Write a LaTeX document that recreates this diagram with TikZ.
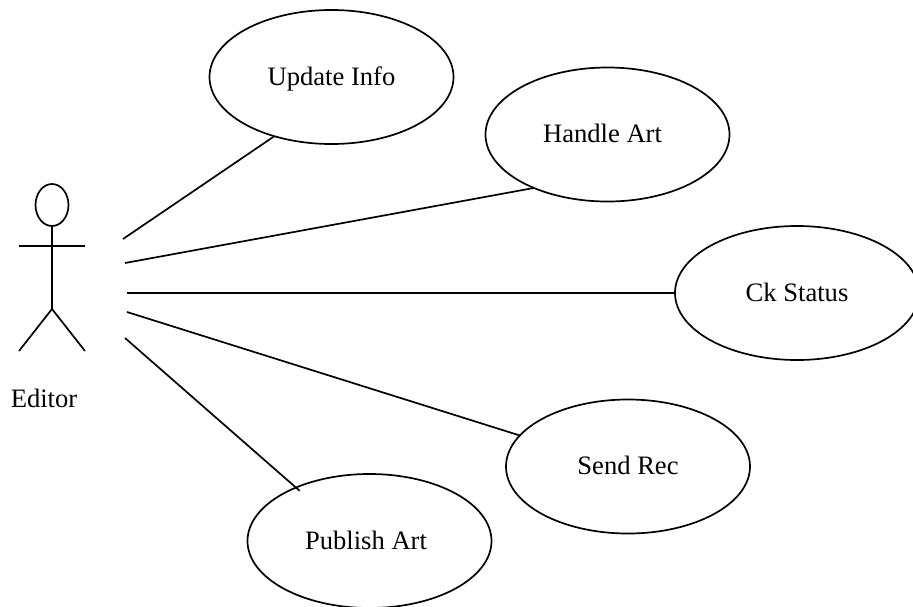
\documentclass[tikz,border=0pt]{standalone}
\usepackage{fontspec}
\setmainfont{Liberation Serif}
\usetikzlibrary{shapes.geometric}
\tikzset{usecase/.style={draw,ellipse,inner sep=0pt,outer sep=0pt,minimum width=244pt,minimum height=134pt,text height=18pt,text depth=2pt}}
\begin{document}
\begin{tikzpicture}[x=1pt,y=1pt,line width=1.7pt,font=\fontsize{26.6}{30}\selectfont]
\useasboundingbox (0,0) rectangle (913,-606);
\node[usecase] (info) at (331.5,-77) {Update Info};
\node[usecase] (art) at (607.5,-134.5) {\hspace*{-10pt}Handle Art};
\node[usecase] (status) at (797,-293) {Ck Status};
\node[usecase] (rec) at (628,-466.5) {Send Rec};
\node[usecase] (pub) at (369.5,-541) {\hspace*{-7pt}Publish Art};

\node[draw,ellipse,inner sep=0pt,outer sep=0pt,minimum width=33pt,minimum height=42pt] (head) at (52,-205) {};
\node (editor) at (44,-398) {Editor};

\coordinate (hip) at (52,-309);
\coordinate (armL) at (19,-246);
\coordinate (armR) at (85,-246);
\coordinate (footL) at (19,-351);
\coordinate (footR) at (85,-351);
\draw (head.south) -- (hip);
\draw (armL) -- (armR);
\draw (footL) -- (hip) -- (footR);

\coordinate (e1) at (123,-239);
\coordinate (e2) at (125,-263);
\coordinate (e3) at (127,-293);
\coordinate (e4) at (127,-312);
\coordinate (e5) at (125,-338);
\draw (e1) -- (info.226);
\draw (e2) -- (art.216);
\draw (e3) -- (status.180);
\draw (e4) -- (rec.164);
\draw[shorten >=-5pt] (e5) -- (pub.144);
\end{tikzpicture}
\end{document}
